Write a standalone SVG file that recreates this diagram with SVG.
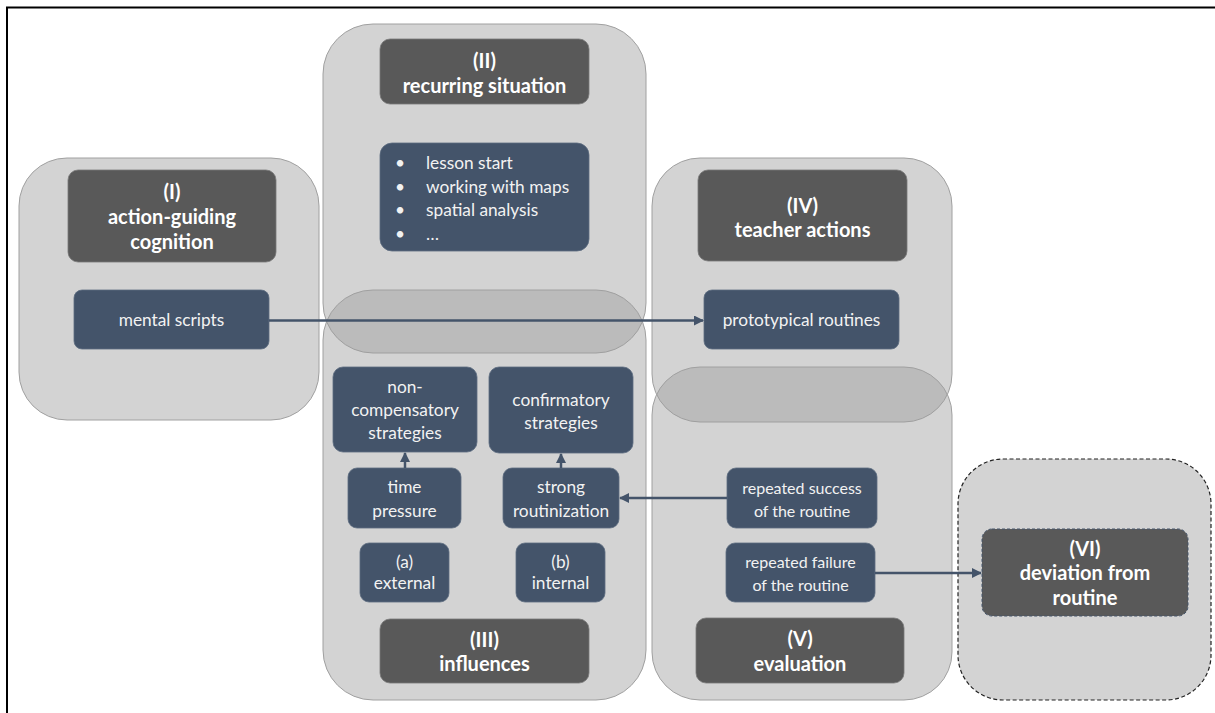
<svg xmlns="http://www.w3.org/2000/svg" width="1215" height="713" viewBox="0 0 1215 713">
  <style>
    .panel { fill: #9e9e9e; fill-opacity: 0.45; stroke: #a0a0a0; stroke-width: 1; }
    .panel-dash { fill: #d3d3d3; stroke: #222; stroke-width: 1.2; stroke-dasharray: 4 2.5; }
    .head { fill: #595959; stroke: #7a7a7a; stroke-width: 0.8; }
    .head-dash { fill: #595959; stroke: #44546a; stroke-width: 1; stroke-dasharray: 3 2; }
    .item { fill: #44546a; stroke: #5d6c80; stroke-width: 0.8; }
    .ht { font-family: Lato, "Liberation Sans", sans-serif; font-weight: bold; font-size: 20px; fill: #ffffff; text-anchor: middle; }
    .it { font-family: Lato, "Liberation Sans", sans-serif; font-size: 17.3px; fill: #f2f2f2; text-anchor: middle; }
    .its { font-family: Lato, "Liberation Sans", sans-serif; font-size: 16px; fill: #f2f2f2; text-anchor: middle; }
    .bl { font-family: Lato, "Liberation Sans", sans-serif; font-size: 17.3px; fill: #f2f2f2; }
    .conn { stroke: #44546a; stroke-width: 2.5; fill: none; marker-end: url(#arrow); }
  </style>
  <defs>
    <marker id="arrow" viewBox="0 0 10 10" refX="9" refY="5" markerWidth="4" markerHeight="4" orient="auto" markerUnits="strokeWidth">
      <path d="M0,0 L10,5 L0,10 z" fill="#44546a"/>
    </marker>
  </defs>

  <rect x="0" y="0" width="1215" height="713" fill="#ffffff"/>
  <!-- outer frame -->
  <rect x="7" y="7.5" width="1220" height="720" fill="none" stroke="#000" stroke-width="2"/>

  <!-- (I) action-guiding cognition -->
  <g id="panel-I">
    <rect class="panel" x="19" y="158" width="300" height="262" rx="48"/>
    <rect class="head" x="68" y="170" width="208" height="92" rx="10"/>
    <text class="ht" x="172" y="199">(I)</text>
    <text class="ht" x="172" y="224">action-guiding</text>
    <text class="ht" x="172" y="249">cognition</text>
    <rect class="item" x="74" y="290" width="195" height="59" rx="8"/>
    <text class="it" x="171.5" y="326">mental scripts</text>
  </g>

  <!-- (II) recurring situation -->
  <g id="panel-II">
    <rect class="panel" x="323" y="24" width="323" height="329" rx="50"/>
    <rect class="head" x="380" y="39" width="209" height="65" rx="10"/>
    <text class="ht" x="484.5" y="68">(II)</text>
    <text class="ht" x="484.5" y="93">recurring situation</text>
    <rect class="item" x="380" y="143" width="209" height="108" rx="12"/>
    <text class="bl" x="395" y="169">•</text>
    <text class="bl" x="426" y="169">lesson start</text>
    <text class="bl" x="395" y="192.5">•</text>
    <text class="bl" x="426" y="192.5">working with maps</text>
    <text class="bl" x="395" y="216">•</text>
    <text class="bl" x="426" y="216">spatial analysis</text>
    <text class="bl" x="395" y="239.5">•</text>
    <text class="bl" x="426" y="239.5">…</text>
  </g>

  <!-- (III) influences -->
  <g id="panel-III">
    <rect class="panel" x="323" y="290" width="323" height="410" rx="50"/>
    <rect class="item" x="333" y="367" width="144" height="85" rx="10"/>
    <text class="it" x="405" y="393">non-</text>
    <text class="it" x="405" y="416">compensatory</text>
    <text class="it" x="405" y="439">strategies</text>
    <rect class="item" x="489" y="367" width="144" height="86" rx="10"/>
    <text class="it" x="561" y="406">confirmatory</text>
    <text class="it" x="561" y="429">strategies</text>
    <rect class="item" x="348" y="468" width="113" height="60" rx="9"/>
    <text class="it" x="404.5" y="493">time</text>
    <text class="it" x="404.5" y="517">pressure</text>
    <rect class="item" x="503" y="468" width="116" height="60" rx="9"/>
    <text class="it" x="561" y="493">strong</text>
    <text class="it" x="561" y="517">routinization</text>
    <rect class="item" x="360" y="543" width="89" height="59" rx="9"/>
    <text class="it" x="404.5" y="568">(a)</text>
    <text class="it" x="404.5" y="589">external</text>
    <rect class="item" x="516" y="543" width="89" height="59" rx="9"/>
    <text class="it" x="560.5" y="568">(b)</text>
    <text class="it" x="560.5" y="589">internal</text>
    <rect class="head" x="380" y="619" width="209" height="64" rx="10"/>
    <text class="ht" x="484.5" y="647">(III)</text>
    <text class="ht" x="484.5" y="671">influences</text>
  </g>

  <!-- (IV) teacher actions -->
  <g id="panel-IV">
    <rect class="panel" x="652" y="158" width="300" height="264" rx="48"/>
    <rect class="head" x="698" y="170" width="209" height="91" rx="10"/>
    <text class="ht" x="802.5" y="213">(IV)</text>
    <text class="ht" x="802.5" y="237">teacher actions</text>
    <rect class="item" x="704" y="290" width="195" height="59" rx="8"/>
    <text class="it" x="801.5" y="326">prototypical routines</text>
  </g>

  <!-- (V) evaluation -->
  <g id="panel-V">
    <rect class="panel" x="652" y="367" width="300" height="333" rx="48"/>
    <rect class="item" x="727" y="468" width="150" height="60" rx="9"/>
    <text class="its" x="802" y="493.5">repeated success</text>
    <text class="its" x="802" y="516.5">of the routine</text>
    <rect class="item" x="726" y="543" width="149" height="59" rx="9"/>
    <text class="its" x="800.5" y="567.5">repeated failure</text>
    <text class="its" x="800.5" y="590.5">of the routine</text>
    <rect class="head" x="696" y="618" width="208" height="65" rx="10"/>
    <text class="ht" x="800" y="646">(V)</text>
    <text class="ht" x="800" y="671">evaluation</text>
  </g>

  <!-- (VI) deviation from routine -->
  <g id="panel-VI">
    <rect class="panel-dash" x="958" y="459" width="253" height="241" rx="45"/>
    <rect class="head-dash" x="982" y="529" width="206" height="87" rx="10"/>
    <text class="ht" x="1085" y="556">(VI)</text>
    <text class="ht" x="1085" y="580">deviation from</text>
    <text class="ht" x="1085" y="605">routine</text>
  </g>

  <!-- connectors -->
  <g id="connectors">
    <line class="conn" x1="269" y1="320.5" x2="703" y2="320.5"/>
    <line class="conn" x1="405" y1="468" x2="405" y2="453"/>
    <line class="conn" x1="561" y1="468" x2="561" y2="454"/>
    <line class="conn" x1="727" y1="498" x2="620" y2="498"/>
    <line class="conn" x1="875" y1="573" x2="981" y2="573"/>
  </g>
</svg>
